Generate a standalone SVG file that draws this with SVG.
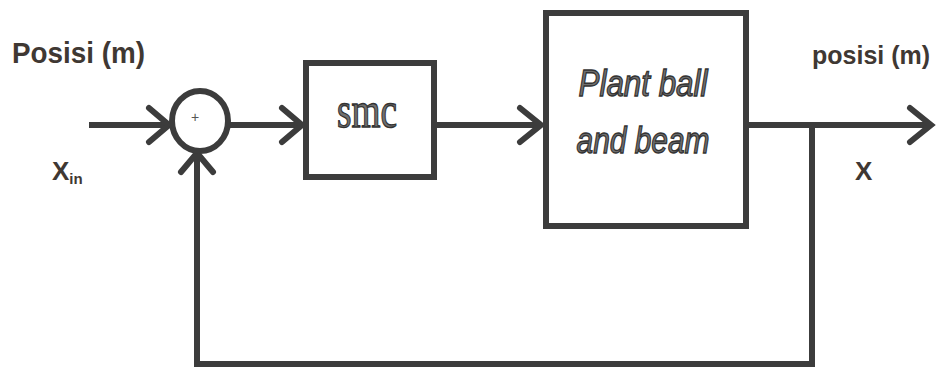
<svg xmlns="http://www.w3.org/2000/svg" width="938" height="374" viewBox="0 0 938 374">
<style>
.ln{fill:none;stroke:#3c3c3c;stroke-width:6;stroke-linecap:butt;stroke-linejoin:miter}
.ah{fill:none;stroke:#3c3c3c;stroke-width:6;stroke-linecap:round;stroke-linejoin:miter}
.box{fill:#fff;stroke:#3c3c3c;stroke-width:6}
.lbl{font-family:"Liberation Sans",Arial,sans-serif;fill:#3f3833;font-weight:bold}
.emb{fill:#707070;stroke:#333;stroke-width:1.3}
</style>
<rect width="938" height="374" fill="#fff"/>
<g id="connectors">
  <path class="ln" d="M89 125 H168"/>
  <path class="ah" d="M149 108 L169 125 L149 142"/>
  <path class="ln" d="M229 125 H300"/>
  <path class="ah" d="M282 108 L302 125 L282 142"/>
  <path class="ln" d="M435 125 H539"/>
  <path class="ah" d="M520 108 L541 125 L520 142"/>
  <path class="ln" d="M747 125 H930"/>
  <path class="ah" d="M910 108 L931 125 L910 142"/>
  <path class="ln" d="M812 125 V364 H197 V155"/>
  <path class="ah" d="M181 172 L197 153 L213 172"/>
</g>
<g id="sum">
  <ellipse cx="200" cy="121" rx="28" ry="30" fill="#fff" stroke="#3c3c3c" stroke-width="6"/>
  <text x="195" y="122" font-family="Liberation Sans,Arial,sans-serif" font-size="14" fill="#555" text-anchor="middle">+</text>
</g>
<g id="smc">
  <rect class="box" x="306" y="63" width="128" height="114"/>
  <text class="emb" x="367" y="127" font-family="Liberation Serif,Times New Roman,serif" font-size="50" text-anchor="middle" textLength="60" lengthAdjust="spacingAndGlyphs">smc</text>
</g>
<g id="plant">
  <rect class="box" x="546" y="13" width="200" height="213"/>
  <text class="emb" x="643" y="96" font-family="Liberation Sans,Arial,sans-serif" font-style="italic" font-size="36" text-anchor="middle" textLength="129" lengthAdjust="spacingAndGlyphs">Plant ball</text>
  <text class="emb" x="643" y="153" font-family="Liberation Sans,Arial,sans-serif" font-style="italic" font-size="36" text-anchor="middle" textLength="133" lengthAdjust="spacingAndGlyphs">and beam</text>
</g>
<g id="input-label">
  <text class="lbl" x="12" y="63" font-size="29" textLength="133" lengthAdjust="spacingAndGlyphs">Posisi (m)</text>
  <text class="lbl" x="52" y="180" font-size="26">X<tspan font-size="15" dy="4">in</tspan></text>
</g>
<g id="output-label">
  <text class="lbl" x="812" y="64" font-size="25">posisi (m)</text>
  <text class="lbl" x="855" y="180" font-size="26">X</text>
</g>
</svg>
